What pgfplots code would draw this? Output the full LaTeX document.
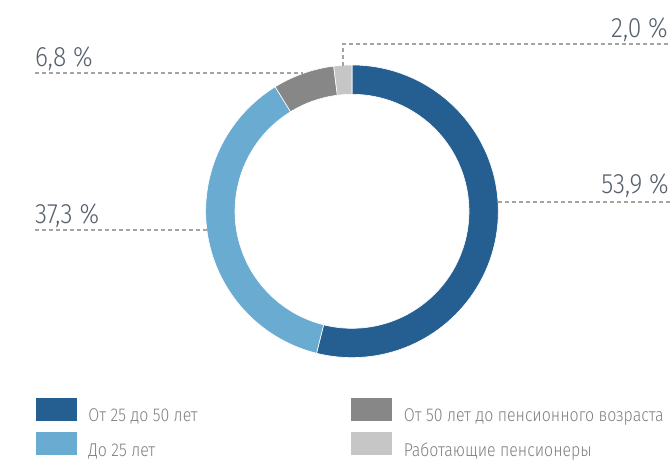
\documentclass[border=0pt]{standalone}
\usepackage{pgfplots}
\pgfplotsset{compat=1.18}
\usepackage{pgfplotstable}
\usepackage{fontspec}
\setmainfont{Fira Sans}[UprightFont=* Light, FakeStretch=0.86]
\newfontfamily\pctfont{Fira Sans}[UprightFont=* Light, FakeStretch=0.88]
\definecolor{c1}{HTML}{255F92}
\definecolor{c2}{HTML}{6AABD2}
\definecolor{c3}{HTML}{878787}
\definecolor{c4}{HTML}{C6C6C6}
\definecolor{lbl}{HTML}{56606C}
\definecolor{legtxt}{HTML}{7D8083}
\definecolor{lead}{HTML}{A3A3A3}

\pgfplotstableread{
value col
53.9 c1
37.3 c2
6.8 c3
2.0 c4
}\shares

\begin{document}
\begin{tikzpicture}
\begin{axis}[
  width=671pt, height=461pt, scale only axis,
  xmin=0, xmax=671, ymin=0, ymax=461, y dir=reverse,
  hide axis, clip=false,
  legend columns=2,
  legend image code/.code={\fill[#1] (0pt,-4pt) rectangle (40pt,18pt);},
  legend style={at={(axis cs:36,398)}, anchor=north west, draw=none, fill=none,
    inner sep=0pt, outer sep=0pt, row sep=9pt, column sep=0pt,
    font=\fontsize{18.5}{20}\selectfont\color{legtxt},
    nodes={inner sep=0pt, outer sep=0pt}},
  legend cell align=left,
]
% invisible frame
\addplot[draw=none, forget plot] coordinates {(0,0) (671,461)};
\coordinate (bbBL) at (axis cs:0,461);
\coordinate (bbTR) at (axis cs:671,0);

\pgfplotsextra{
  \pgfplotstablegetrowsof{\shares}
  \pgfmathtruncatemacro\nrows{\pgfplotsretval-1}
  \xdef\cumang{90}
  \foreach \i in {0,...,\nrows}{
    \pgfplotstablegetelem{\i}{value}\of{\shares}\let\v\pgfplotsretval
    \pgfplotstablegetelem{\i}{col}\of{\shares}\let\c\pgfplotsretval
    \pgfmathsetmacro\aa{\cumang}
    \pgfmathsetmacro\bb{\cumang-3.6*\v}
    \fill[\c, draw=white, line width=0.6pt] (axis cs:352,211.3) ++(\aa:146.3pt)
      arc[start angle=\aa, end angle=\bb, radius=146.3pt]
      -- ++(\bb:-29.3pt)
      arc[start angle=\bb, end angle=\aa, radius=117pt] -- cycle;
    \xdef\cumang{\bb}
  }
}

% leader lines
\addplot[lead, line width=1.1pt, dash pattern=on 4pt off 3pt, forget plot] coordinates {(343,66) (343,44) (671,44)};
\addplot[lead, line width=1.1pt, dash pattern=on 4pt off 3pt, forget plot] coordinates {(35,73) (303,73)};
\addplot[lead, line width=1.1pt, dash pattern=on 4pt off 3pt, forget plot] coordinates {(498,202) (671,202)};
\addplot[lead, line width=1.1pt, dash pattern=on 4pt off 3pt, forget plot] coordinates {(35,230) (207,230)};

\node[anchor=base west, inner sep=0pt, text=lbl, font=\pctfont\fontsize{28}{30}\selectfont] at (axis cs:35,66) {6,8 \%};
\node[anchor=base west, inner sep=0pt, text=lbl, font=\pctfont\fontsize{28}{30}\selectfont] at (axis cs:35,223.3) {37,3 \%};
\node[anchor=base east, inner sep=0pt, text=lbl, font=\pctfont\fontsize{28}{30}\selectfont] at (axis cs:669,193.3) {53,9 \%};
\node[anchor=base east, inner sep=0pt, text=lbl, font=\pctfont\fontsize{28}{30}\selectfont] at (axis cs:668,37.3) {2,0 \%};

% legend
\addlegendimage{c1}
\addlegendentry{\hspace*{12pt}\makebox[263pt][l]{От 25 до 50 лет}}
\addlegendimage{c3}
\addlegendentry{\hspace*{12pt}От 50 лет до пенсионного возраста}
\addlegendimage{c2}
\addlegendentry{\hspace*{12pt}\makebox[263pt][l]{До 25 лет}}
\addlegendimage{c4}
\addlegendentry{\hspace*{12pt}Работающие пенсионеры}
\end{axis}
\pgfresetboundingbox
\useasboundingbox (bbBL) rectangle (bbTR);
\end{tikzpicture}
\end{document}
